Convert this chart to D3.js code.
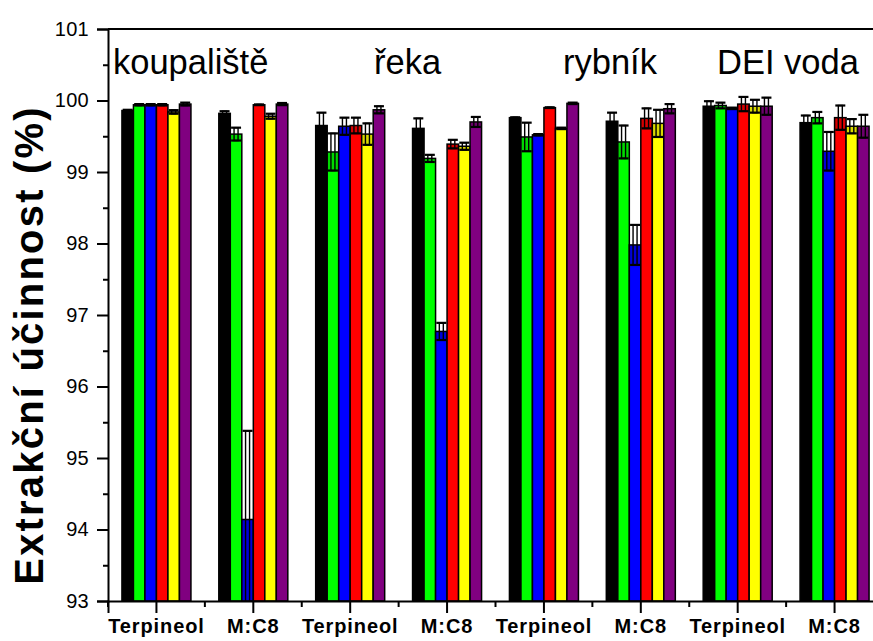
<!DOCTYPE html>
<html>
<head>
  <meta charset="utf-8">
  <title>Extrakční účinnost</title>
  <script src="https://d3js.org/d3.v7.min.js"></script>
  <style>
    body { margin: 0; background: #fff; }
    svg text { font-family: Arial, "Liberation Sans", sans-serif; }
  </style>
</head>
<body>
  <svg id="chart"></svg>

  <script>
    // Data
    let waters = ["koupaliště", "řeka", "rybník", "DEI voda"];
    let extractants = ["Terpineol", "M:C8"];
    let seriesNames = ["s1", "s2", "s3", "s4", "s5", "s6"];
    let seriesColors = ["#000000", "#00ff00", "#0000ff", "#ff0000", "#ffff00", "#800080"];

    // one value per column: koupaliště T, M, řeka T, M, rybník T, M, DEI T, M
    let black  = [99.86, 99.82, 99.65, 99.61, 99.76, 99.71, 99.92, 99.69];
    let green  = [99.94, 99.53, 99.28, 99.19, 99.49, 99.42, 99.93, 99.76];
    let blue   = [99.94, 94.14, 99.64, 96.77, 99.52, 97.98, 99.89, 99.29];
    let red    = [99.94, 99.94, 99.65, 99.39, 99.90, 99.75, 99.95, 99.76];
    let yellow = [99.84, 99.78, 99.53, 99.36, 99.61, 99.68, 99.92, 99.64];
    let purple = [99.95, 99.95, 99.87, 99.70, 99.96, 99.885, 99.92, 99.64];

    let blackErr  = [0.01, 0.03, 0.18, 0.14, 0.005, 0.12, 0.07, 0.10];
    let greenErr  = [0.01, 0.09, 0.26, 0.05, 0.20, 0.23, 0.04, 0.08];
    let blueErr   = [0.01, 1.24, 0.12, 0.12, 0.01, 0.28, 0.01, 0.27];
    let redErr    = [0.01, 0.005, 0.11, 0.06, 0.005, 0.14, 0.10, 0.17];
    let yellowErr = [0.025, 0.035, 0.15, 0.05, 0.01, 0.19, 0.09, 0.10];
    let purpleErr = [0.02, 0.015, 0.05, 0.07, 0.01, 0.065, 0.12, 0.16];

    let yTicks = [93, 94, 95, 96, 97, 98, 99, 100, 101];
    let yMinorTicks = [93.5, 94.5, 95.5, 96.5, 97.5, 98.5, 99.5, 100.5];
    let yTitle = "Extrakční účinnost (%)";

    let values = [black, green, blue, red, yellow, purple];
    let errors = [blackErr, greenErr, blueErr, redErr, yellowErr, purpleErr];

    // columns: each water has a Terpineol and an M:C8 column
    let columns = [];
    waters.forEach(function(w, wi) {
      extractants.forEach(function(e, ei) {
        columns.push({ id: wi * 2 + ei, water: w, label: e });
      });
    });

    let bars = [];
    columns.forEach(function(c) {
      seriesNames.forEach(function(s, si) {
        bars.push({ col: c.id, series: s, value: values[si][c.id], err: errors[si][c.id], color: seriesColors[si] });
      });
    });

    let width = 873, height = 641;
    let plotLeft = 108, plotRight = 883, plotTop = 29, plotBottom = 601;

    let svg = d3.select("#chart")
                .attr("width", width)
                .attr("height", height);

    let x0 = d3.scaleBand()
               .domain(columns.map(function(d) { return d.id; }))
               .range([plotLeft, plotRight]);

    let bw = x0.bandwidth();
    let groupW = 69;
    let x1 = d3.scaleBand()
               .domain(seriesNames)
               .range([(bw - groupW) / 2, (bw + groupW) / 2]);

    let y = d3.scaleLinear()
              .domain([93, 101])
              .range([plotBottom, plotTop]);

    svg.append("defs").append("clipPath")
       .attr("id", "plot-clip")
       .append("rect")
       .attr("x", plotLeft).attr("y", plotTop)
       .attr("width", plotRight - plotLeft).attr("height", plotBottom - plotTop);

    let plot = svg.append("g").attr("clip-path", "url(#plot-clip)");

    // bars
    plot.selectAll(".bar")
        .data(bars)
        .enter()
        .append("rect")
        .attr("class", "bar")
        .attr("x", function(d) { return x0(d.col) + x1(d.series); })
        .attr("width", x1.bandwidth())
        .attr("y", function(d) { return y(d.value); })
        .attr("height", function(d) { return y(93) - y(d.value); })
        .style("fill", function(d) { return d.color; })
        .style("stroke", "#000")
        .style("stroke-width", 1.5);

    // lower half of the error bar darkens the bar a little
    plot.selectAll(".err-shade")
        .data(bars)
        .enter()
        .append("rect")
        .attr("class", "err-shade")
        .attr("x", function(d) { return x0(d.col) + x1(d.series); })
        .attr("width", x1.bandwidth())
        .attr("y", function(d) { return y(d.value); })
        .attr("height", function(d) { return y(d.value - d.err) - y(d.value); })
        .style("fill", "#000")
        .style("opacity", 0.15);

    // error bars: narrow box with caps
    let eb = plot.selectAll(".err")
                 .data(bars)
                 .enter()
                 .append("g")
                 .attr("class", "err")
                 .attr("transform", function(d) {
                   return "translate(" + (x0(d.col) + x1(d.series) + x1.bandwidth() / 2) + ",0)";
                 });

    eb.append("rect")
      .attr("x", -2)
      .attr("width", 4)
      .attr("y", function(d) { return y(d.value + d.err); })
      .attr("height", function(d) { return y(d.value - d.err) - y(d.value + d.err); })
      .style("fill", "none")
      .style("stroke", "#000")
      .style("stroke-width", 1.4);

    eb.append("line")
      .attr("x1", -5).attr("x2", 5)
      .attr("y1", function(d) { return y(d.value + d.err); })
      .attr("y2", function(d) { return y(d.value + d.err); })
      .style("stroke", "#000")
      .style("stroke-width", 2.2);

    eb.append("line")
      .attr("x1", -5).attr("x2", 5)
      .attr("y1", function(d) { return y(d.value - d.err); })
      .attr("y2", function(d) { return y(d.value - d.err); })
      .style("stroke", "#000")
      .style("stroke-width", 2.2);

    // frame line on top
    svg.append("line")
       .attr("x1", plotLeft).attr("x2", plotRight)
       .attr("y1", plotTop).attr("y2", plotTop)
       .style("stroke", "#000").style("stroke-width", 2);

    // left axis
    let yAxis = svg.append("g")
       .attr("transform", "translate(" + plotLeft + ",0)")
       .call(d3.axisLeft(y).tickValues(yTicks).tickSize(11).tickPadding(8).tickFormat(d3.format("d")));
    yAxis.select(".domain").style("stroke-width", 2);
    yAxis.selectAll(".tick line").style("stroke-width", 2);
    yAxis.selectAll("text")
         .style("font-size", "20px")
         .style("letter-spacing", "0.3px")
         .style("fill", "#000");

    let yMinor = svg.append("g")
       .attr("transform", "translate(" + plotLeft + ",0)")
       .call(d3.axisLeft(y).tickValues(yMinorTicks).tickSize(5).tickFormat(""));
    yMinor.select(".domain").remove();
    yMinor.selectAll(".tick line").style("stroke-width", 2);

    // right axis, ticks inward
    let yRight = svg.append("g")
       .attr("transform", "translate(" + plotRight + ",0)")
       .call(d3.axisLeft(y).tickValues(yTicks).tickSize(-12).tickFormat(""));
    yRight.select(".domain").style("stroke-width", 2);
    yRight.selectAll(".tick line").style("stroke-width", 2);

    // bottom axis: major ticks at columns, minor at boundaries
    let xAxis = svg.append("g")
       .attr("transform", "translate(0," + plotBottom + ")")
       .call(d3.axisBottom(x0).tickSize(12).tickPadding(6)
               .tickFormat(function(d) { return columns[d].label; }));
    xAxis.select(".domain").style("stroke-width", 2);
    xAxis.selectAll(".tick line").style("stroke-width", 2);
    xAxis.selectAll("text")
         .style("font-size", "20px")
         .style("font-weight", "bold")
         .style("letter-spacing", "0.9px")
         .style("fill", "#000");

    svg.append("g")
       .selectAll("line")
       .data(columns)
       .enter()
       .append("line")
       .attr("x1", function(d) { return x0(d.id); })
       .attr("x2", function(d) { return x0(d.id); })
       .attr("y1", plotBottom)
       .attr("y2", plotBottom + 6)
       .style("stroke", "#000")
       .style("stroke-width", 2);

    // water type labels above each pair of columns
    let labelX = [113, 374, 563, 717];
    svg.selectAll(".water")
       .data(waters)
       .enter()
       .append("text")
       .attr("class", "water")
       .attr("x", function(d, i) { return labelX[i]; })
       .attr("y", 74)
       .style("font-size", "34.5px")
       .style("fill", "#000")
       .text(function(d) { return d; });

    // y title
    svg.append("text")
       .attr("transform", "translate(43,345) rotate(-90)")
       .attr("text-anchor", "middle")
       .style("font-size", "40px")
       .style("font-weight", "bold")
       .style("letter-spacing", "2.2px")
       .style("fill", "#000")
       .text(yTitle);
  </script>
</body>
</html>
